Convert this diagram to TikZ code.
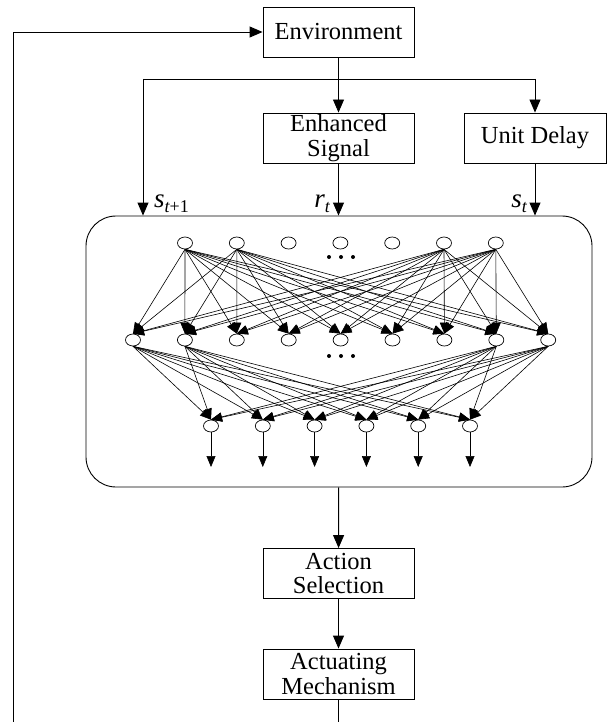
\documentclass[tikz,border=0pt]{standalone}
\usepackage{fontspec}
\setmainfont{Liberation Serif}
\usetikzlibrary{shapes}
\usetikzlibrary{arrows.meta}

\begin{document}
\begin{tikzpicture}[x=1pt,y=-1pt]
\tikzstyle{bloc}=[rectangle,draw,line width=0.9pt,minimum height=50pt,inner sep=0pt,align=center,font=\fontsize{24.5}{24.5}\selectfont]
\tikzstyle{neurone}=[ellipse,draw,line width=0.7pt,fill=white,minimum width=15pt,minimum height=12pt,inner sep=0pt]
\tikzstyle{operation}=[-{Triangle[length=13pt,width=11pt]},line width=0.9pt]
\tikzstyle{poids}=[-{Triangle[length=11pt,width=9pt]},line width=0.6pt]
\tikzstyle{etiquette}=[font=\fontsize{27}{27}\selectfont\itshape,inner sep=0pt]
\newcommand{\indice}[1]{\raisebox{-0.45ex}{\fontsize{18}{18}\selectfont #1}}
\useasboundingbox (0,0) rectangle (606,722);
\node[bloc,minimum width=151pt] (env) at (338.5,32) {Environment};
\node[bloc,minimum width=151pt] (es) at (338.5,138) {Enhanced\\Signal};
\node[bloc,minimum width=142pt] (ud) at (535,138) {Unit Delay};
\node[draw,line width=0.9pt,rounded corners=30pt,minimum width=506pt,minimum height=271pt,inner sep=0pt] (net) at (339,351.5) {};
\node[bloc,minimum width=151pt] (as) at (338.5,573.5) {Action\\Selection};
\node[bloc,minimum width=151pt] (am) at (338.5,674) {Actuating\\Mechanism};
\node[etiquette,anchor=base west] (lsuiv) at (154,207) {s\indice{t\upshape+1}};
\node[etiquette,anchor=base east] (lr) at (330,207) {r\indice{t}};
\node[etiquette,anchor=base east] (ls) at (527,207) {s\indice{t}};
%reseau
\foreach \i in {1,...,7} \node[neurone] (e\i) at ({185+51.8*(\i-1)},243) {};
\foreach \j in {1,...,9} \node[neurone] (c\j) at ({133+51.9*(\j-1)},340) {};
\foreach \k in {1,...,6} {
  \node[neurone] (o\k) at ({211+51.8*(\k-1)},426) {};
  \coordinate (q\k) at ({211+51.8*(\k-1)},467);
}
\foreach \x in {329,341,353} {\fill (\x,257) circle (2pt); \fill (\x,356) circle (2pt);}
\foreach \i in {1,2,6,7} \foreach \j in {1,...,9} \draw[poids] (e\i.south) -- (c\j.north);
\foreach \j in {1,2,8,9} \foreach \k in {1,...,6} \draw[poids] (c\j.south) -- (o\k.north);
\foreach \k in {1,...,6} \draw[poids] (o\k) -- (q\k);
%fleches
\coordinate (gauche) at (143,79);
\coordinate (droite) at (ud.north |- gauche);
\coordinate (coin) at (13,722);
\coordinate (bas) at (338.5,722);
\draw[line width=0.9pt] (gauche) -- (droite);
\draw[operation] (env) -- (es);
\draw[operation] (droite) -- (ud);
\draw[operation] (gauche) -- (gauche |- net.north);
\draw[operation] (es) -- (es |- net.north);
\draw[operation] (ud) -- (ud |- net.north);
\draw[operation] (net) -- (as);
\draw[operation] (as) -- (am);
\draw[line width=0.9pt] (am) -- (bas);
\draw[operation] (coin) |- (env);
\end{tikzpicture}
\end{document}
